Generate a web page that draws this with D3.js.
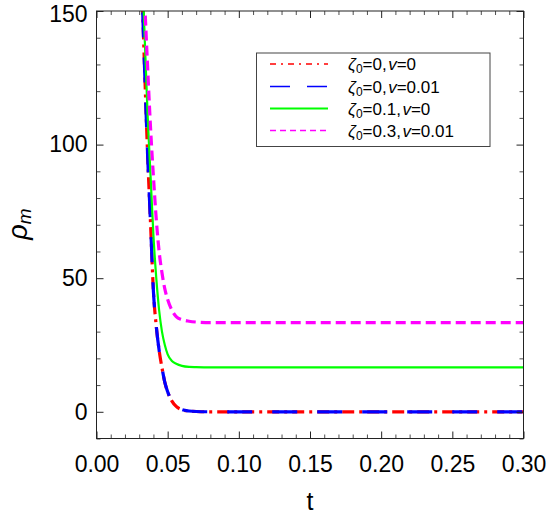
<!DOCTYPE html>
<html>
<head>
<meta charset="utf-8">
<script src="https://cdn.jsdelivr.net/npm/d3@7"></script>
<style>
  body { margin: 0; background: #fff; }
  svg text { font-family: "Liberation Sans", Arial, sans-serif; }
</style>
</head>
<body>
<svg id="chart" width="550" height="520"></svg>
<script>
// Sample times (t) shared by every curve
const tValues = [0.030, 0.032, 0.034, 0.036, 0.038, 0.040, 0.042, 0.044, 0.046, 0.048,
                 0.050, 0.053, 0.056, 0.060, 0.065, 0.070, 0.080, 0.100, 0.150, 0.200, 0.250, 0.300];

// Matter density rho_m for each parameter set
const rhoZeta0v0      = [200, 158, 125, 95, 70, 45, 32, 23, 16.5, 11, 7.5, 4, 2, 0.8, 0.3, 0.1, 0, 0, 0, 0, 0, 0];
const rhoZeta0v001    = [200, 158, 125, 95, 70, 45, 32, 23, 16.5, 11, 7.5, 4, 2, 0.8, 0.3, 0.1, 0, 0, 0, 0, 0, 0];
const rhoZeta01v0     = [200, 167, 138, 110, 88, 66, 50, 38, 30, 25, 21.5, 19, 18, 17.2, 16.8, 16.7, 16.6, 16.6, 16.6, 16.6, 16.6, 16.6];
const rhoZeta03v001   = [210, 180, 152, 128, 106, 88, 72, 60, 52, 46, 42, 38, 35.6, 34.5, 33.9, 33.6, 33.4, 33.4, 33.4, 33.4, 33.4, 33.4];

const seriesLabels = [
  { zeta: "0",   v: "0" },
  { zeta: "0",   v: "0.01" },
  { zeta: "0.1", v: "0" },
  { zeta: "0.3", v: "0.01" }
];

const xTicks = [0, 0.05, 0.10, 0.15, 0.20, 0.25, 0.30];
const yTicks = [0, 50, 100, 150];

const series = [
  { values: rhoZeta0v0,    color: "#ff0000", width: 3.2, dash: "12,5,3,5", legendDash: "6,5,2,5", legendWidth: 1.3 },
  { values: rhoZeta0v001,  color: "#0000ff", width: 3.2, dash: "25,20",    legendDash: "20,17",   legendWidth: 1.6 },
  { values: rhoZeta01v0,   color: "#00ff00", width: 2.2, dash: null,       legendDash: null,      legendWidth: 1.8 },
  { values: rhoZeta03v001, color: "#ff00ff", width: 3.2, dash: "10,5",     legendDash: "6,4",     legendWidth: 1.6 }
];

const svg = d3.select("#chart");
const plotLeft = 96.5, plotRight = 523.5, plotTop = 11, plotBottom = 438.5;

const x = d3.scaleLinear().domain([0, 0.3]).range([plotLeft, plotRight]);
const y = d3.scaleLinear().domain([-10, 150]).range([plotBottom, plotTop]);

svg.append("defs").append("clipPath").attr("id", "plotClip")
  .append("rect").attr("x", plotLeft).attr("y", plotTop)
  .attr("width", plotRight - plotLeft).attr("height", plotBottom - plotTop);

// Curves
const line = d3.line()
  .x(d => x(d[0]))
  .y(d => y(d[1]))
  .curve(d3.curveMonotoneX);

const plot = svg.append("g").attr("clip-path", "url(#plotClip)");
series.forEach(s => {
  const pts = tValues.map((t, i) => [t, s.values[i]]);
  plot.append("path")
    .attr("d", line(pts))
    .attr("fill", "none")
    .attr("stroke", s.color)
    .attr("stroke-width", s.width)
    .attr("stroke-dasharray", s.dash)
    .attr("stroke-linejoin", "round");
});

// Frame with ticks on all four sides
const frameColor = "#222";
const axisG = svg.append("g");

function tickAxis(axisFn, scale, transform, majors, minors, showLabels, fmt) {
  const gMinor = axisG.append("g").attr("transform", transform)
    .call(axisFn(scale).tickValues(minors).tickSize(-4).tickFormat(""));
  gMinor.select(".domain").remove();
  gMinor.selectAll("line").attr("stroke", frameColor).attr("stroke-width", 0.8);
  const gMajor = axisG.append("g").attr("transform", transform)
    .call(axisFn(scale).tickValues(majors).tickSize(-7).tickPadding(10)
      .tickFormat(showLabels ? fmt : ""));
  gMajor.select(".domain").remove();
  gMajor.selectAll("line").attr("stroke", frameColor).attr("stroke-width", 1);
  gMajor.selectAll("text").attr("font-size", 23).attr("fill", "#000")
    .attr("font-family", "'Liberation Sans', Arial, sans-serif");
  return gMajor;
}

const xMinor = d3.range(0, 0.3001, 0.01).map(v => +v.toFixed(3)).filter(v => !xTicks.some(m => Math.abs(m - v) < 1e-9));
const yMinor = d3.range(-10, 150.1, 10).filter(v => !yTicks.includes(v));

const xb = tickAxis(d3.axisBottom, x, `translate(0,${plotBottom})`, xTicks, xMinor, true, d3.format(".2f"));
xb.selectAll("text").attr("dy", "0.71em").attr("y", 17);
tickAxis(d3.axisTop, x, `translate(0,${plotTop})`, xTicks, xMinor, false);
const yl = tickAxis(d3.axisLeft, y, `translate(${plotLeft},0)`, yTicks, yMinor, true, d3.format("d"));
yl.selectAll("text").attr("x", -9);
// keep the top label fully inside the canvas
yl.selectAll(".tick").filter(d => d === 150).select("text").attr("dy", "0.36em").attr("y", 2);
tickAxis(d3.axisRight, y, `translate(${plotRight},0)`, yTicks, yMinor, false);

svg.append("rect")
  .attr("x", plotLeft).attr("y", plotTop)
  .attr("width", plotRight - plotLeft).attr("height", plotBottom - plotTop)
  .attr("fill", "none").attr("stroke", frameColor).attr("stroke-width", 1);

// Axis titles
svg.append("text")
  .attr("x", (plotLeft + plotRight) / 2).attr("y", 510)
  .attr("text-anchor", "middle").attr("font-size", 25).text("t");

const yTitle = svg.append("text")
  .attr("transform", "translate(27,224) rotate(-90)")
  .attr("text-anchor", "middle").attr("font-size", 27);
yTitle.append("tspan").attr("font-style", "italic").text("ρ");
yTitle.append("tspan").attr("font-style", "italic").attr("font-size", 19).attr("dy", 4).text("m");

// Legend
const legend = svg.append("g");
legend.append("rect")
  .attr("x", 256.5).attr("y", 53).attr("width", 233.5).attr("height", 93.5)
  .attr("fill", "#fff").attr("stroke", "#444").attr("stroke-width", 1);

const rowY = [64, 86.5, 108.5, 130.5];
series.forEach((s, i) => {
  legend.append("line")
    .attr("x1", 270).attr("x2", 328)
    .attr("y1", rowY[i]).attr("y2", rowY[i])
    .attr("stroke", s.color).attr("stroke-width", s.legendWidth)
    .attr("stroke-dasharray", s.legendDash);
  const lab = seriesLabels[i];
  const txt = legend.append("text")
    .attr("x", 348).attr("y", rowY[i] + 6)
    .attr("font-size", 17);
  txt.append("tspan").attr("font-style", "italic").text("ζ");
  txt.append("tspan").attr("font-size", 12).attr("dy", 3).text("0");
  txt.append("tspan").attr("dy", -3).text("=" + lab.zeta + ",");
  txt.append("tspan").attr("font-style", "italic").attr("dx", 1.5).text("v");
  txt.append("tspan").text("=" + lab.v);
});
</script>
</body>
</html>
